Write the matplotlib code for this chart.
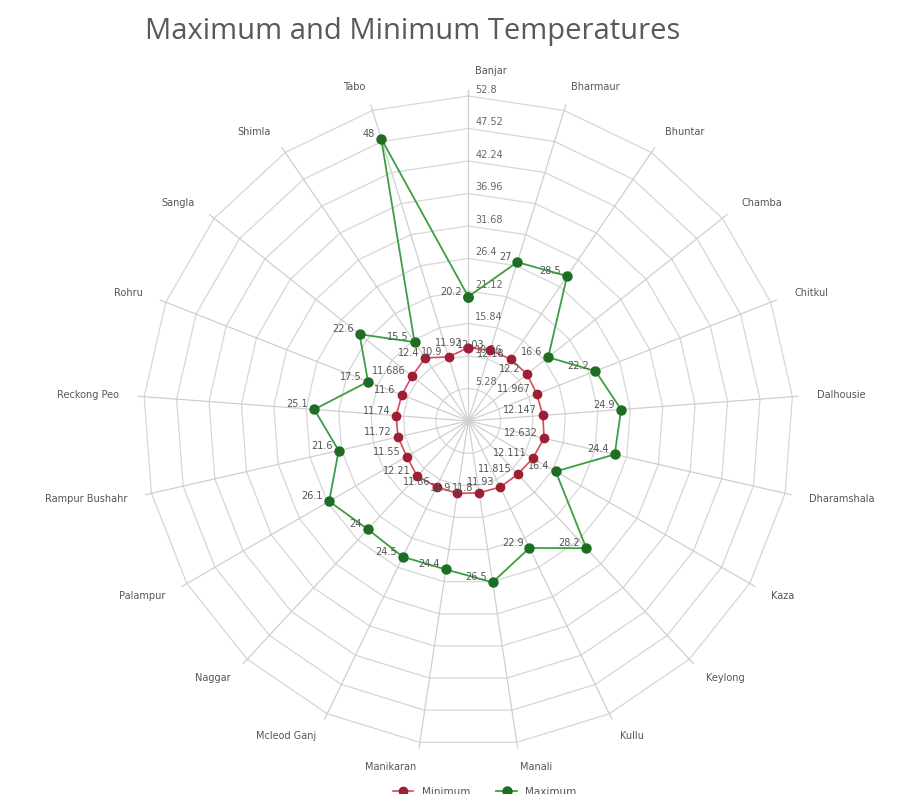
import numpy as np
import matplotlib
matplotlib.use("Agg")
import matplotlib.pyplot as plt

# Stations around the radar, clockwise from the top
categories = [
    "Banjar", "Bharmaur", "Bhuntar", "Chamba", "Chitkul", "Dalhousie",
    "Dharamshala", "Kaza", "Keylong", "Kullu", "Manali", "Manikaran",
    "Mcleod Ganj", "Naggar", "Palampur", "Rampur Bushahr", "Reckong Peo",
    "Rohru", "Sangla", "Shimla", "Tabo",
]

min_temp = [
    11.92, 12.03, 12.18, 12.2, 11.967, 12.147,
    12.632, 12.111, 11.815, 11.93, 11.8, 11.9,
    11.86, 12.21, 11.55, 11.72, 11.74,
    11.6, 11.686, 12.4, 10.9,
]

max_temp = [
    20.2, 27.0, 28.5, 16.6, 22.2, 24.9,
    24.4, 16.4, 28.2, 22.9, 26.5, 24.4,
    24.5, 24, 26.1, 21.6, 25.1,
    17.5, 22.6, 15.5, 48,
]

ring_values = [5.28, 10.56, 15.84, 21.12, 26.4, 31.68, 36.96, 42.24, 47.52, 52.8]
ring_labels = ["5.28", "10.56", "15.84", "21.12", "26.4", "31.68", "36.96",
               "42.24", "47.52", "52.8"]

r_max = ring_values[-1]
grid_color = "#d6d6d6"
text_color = "#555555"

fig = plt.figure(figsize=(8.99, 7.94), dpi=100)
fig.patch.set_facecolor("white")

ax = fig.add_axes([0.1594, 0.0605, 0.723, 0.8186], projection="polar")
ax.set_theta_zero_location("N")
ax.set_theta_direction(-1)
ax.set_ylim(0, r_max)
ax.grid(False)
ax.set_xticks([])
ax.set_yticks([])
ax.spines["polar"].set_visible(False)
ax.patch.set_alpha(0)

n = len(categories)
theta = np.arange(n) * 2 * np.pi / n
theta_closed = np.append(theta, theta[0])

# polygonal rings
for r in ring_values:
    ax.plot(theta_closed, np.full(n + 1, r), color=grid_color, lw=0.9,
            zorder=1, clip_on=False)

# spokes
for t in theta:
    ax.plot([t, t], [0, r_max * 1.018], color="#cfcfcf", lw=0.9, zorder=1,
            clip_on=False)

# ring value labels along the first spoke
for r, lab in zip(ring_values, ring_labels):
    ax.annotate(lab, (0, r), xytext=(7, 1), textcoords="offset pixels",
                ha="left", va="bottom", fontsize=7, color="#666666", zorder=2)

# station names around the outside
label_r = r_max * 350 / 325
for t, name in zip(theta, categories):
    s = np.sin(t)
    if abs(s) < 1e-6:
        ax.annotate(name, (t, label_r), xytext=(7, 0), textcoords="offset pixels",
                    ha="left", va="center", fontsize=7, color=text_color,
                    annotation_clip=False)
    else:
        ax.text(t, label_r, name, ha="left" if s > 0 else "right", va="center",
                fontsize=7, color=text_color, clip_on=False)

min_closed = np.append(min_temp, min_temp[0])
max_closed = np.append(max_temp, max_temp[0])

ax.plot(theta_closed, min_closed, color="#d9485c", lw=1.2, marker="o", ms=6,
        mfc="#9c1f33", mec="#9c1f33", zorder=3, label="Minimum", clip_on=False)
ax.plot(theta_closed, max_closed, color="#3c9e42", lw=1.3, marker="o", ms=6.5,
        mfc="#1d6e24", mec="#1d6e24", zorder=4, label="Maximum", clip_on=False)

for t, v in zip(theta, min_temp):
    ax.annotate(f"{v:g}", (t, v), xytext=(-6, 5), textcoords="offset pixels",
                ha="right", va="center", fontsize=7, color=text_color, zorder=5)
for t, v in zip(theta, max_temp):
    ax.annotate(f"{v:g}", (t, v), xytext=(-6, 5), textcoords="offset pixels",
                ha="right", va="center", fontsize=7, color=text_color, zorder=5)

fig.text(145 / 899, 1 - 31 / 794, "Maximum and Minimum Temperatures",
         fontsize=21, ha="left", va="center", color="#595959",
         family="Open Sans")

fig.legend(loc="center", bbox_to_anchor=(0.539, 0.003), ncol=2, frameon=False,
           fontsize=7.5, handlelength=2.0, columnspacing=2.5,
           labelcolor=text_color)

fig.savefig("out.png", dpi=100)
